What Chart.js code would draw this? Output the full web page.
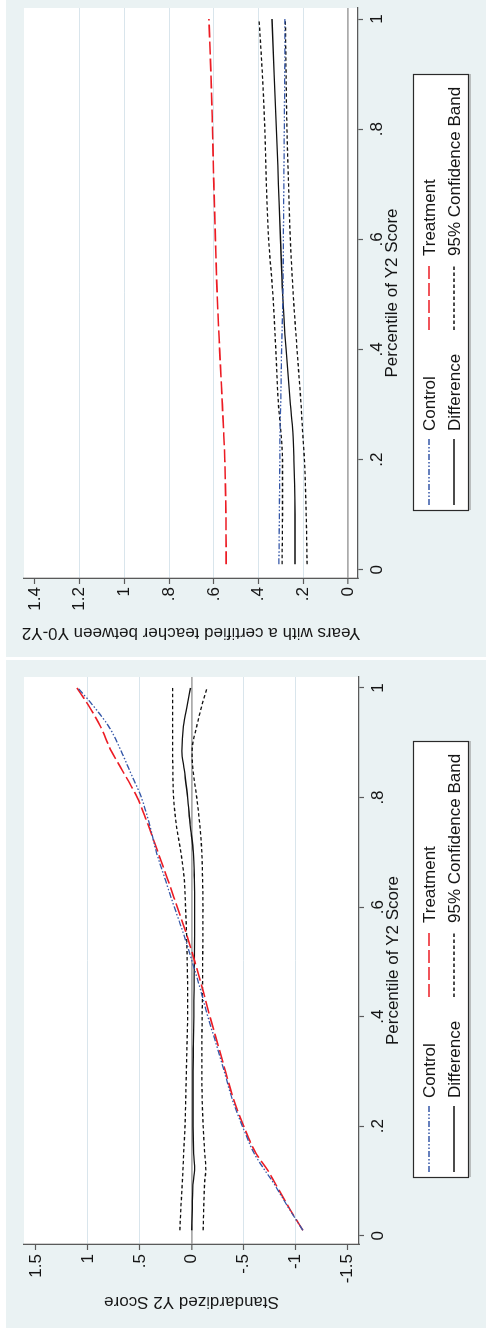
<!DOCTYPE html>
<html>
<head>
<meta charset="utf-8">
<script src="https://cdn.jsdelivr.net/npm/chart.js@4.4.1/dist/chart.umd.min.js"></script>
<style>
  html, body { margin: 0; padding: 0; background: #ffffff; }
  body { width: 486px; height: 1333px; overflow: hidden; position: relative; }
  /* the two panels are laid out side by side, then the sheet is turned a quarter turn */
  #sheet {
    position: absolute; left: 0; top: 0;
    width: 1333px; height: 486px; overflow: hidden;
    transform-origin: 0 0;
    transform: translateY(1333px) rotate(-90deg);
  }
  .panel { position: absolute; top: 6px; width: 668px; height: 480px; background: #eaf2f3; }
  #scorePanel { left: 5px; }
  #yearsPanel { left: 676px; }
  canvas { display: block; }
</style>
</head>
<body>
<div id="sheet">
  <div class="panel" id="scorePanel"><canvas id="scoreChart" width="668" height="480"></canvas></div>
  <div class="panel" id="yearsPanel"><canvas id="yearsChart" width="668" height="480"></canvas></div>
</div>
<script>
// ---- axis ticks ----
const pctTicks = [0, 0.2, 0.4, 0.6, 0.8, 1];
const pctTickLabels = ['0', '.2', '.4', '.6', '.8', '1'];
const scoreTicks = [-1.5, -1, -0.5, 0, 0.5, 1, 1.5];
const scoreTickLabels = ['-1.5', '-1', '-.5', '0', '.5', '1', '1.5'];
const yearsTicks = [0, 0.2, 0.4, 0.6, 0.8, 1, 1.2, 1.4];
const yearsTickLabels = ['0', '.2', '.4', '.6', '.8', '1', '1.2', '1.4'];

const seriesNames = ['Control', 'Treatment', 'Difference', '95% Confidence Band'];

// ---- Standardized Y2 score by percentile ----
const scorePct        = [0.01, 0.05, 0.10, 0.12, 0.15, 0.20, 0.25, 0.30, 0.35, 0.40, 0.45, 0.50, 0.55, 0.60, 0.65, 0.70, 0.75, 0.80, 0.85, 0.885, 0.93, 0.97, 1.00];
const scoreControl    = [-1.07, -0.935, -0.775, -0.702, -0.602, -0.488, -0.388, -0.313, -0.235, -0.155, -0.083, -0.005, 0.077, 0.168, 0.255, 0.34, 0.405, 0.485, 0.60, 0.68, 0.80, 0.96, 1.095];
const scoreTreatment  = [-1.07, -0.94, -0.79, -0.73, -0.62, -0.50, -0.40, -0.325, -0.25, -0.175, -0.105, -0.03, 0.05, 0.14, 0.23, 0.325, 0.42, 0.525, 0.67, 0.775, 0.88, 1.00, 1.105];
const scoreDifference = [0.0, -0.005, -0.015, -0.028, -0.018, -0.012, -0.012, -0.012, -0.015, -0.02, -0.022, -0.025, -0.027, -0.028, -0.025, -0.015, 0.015, 0.04, 0.072, 0.095, 0.08, 0.042, 0.012];
const scoreUpper      = [0.115, 0.105, 0.09, 0.085, 0.078, 0.065, 0.058, 0.052, 0.046, 0.04, 0.04, 0.044, 0.05, 0.06, 0.072, 0.105, 0.148, 0.175, 0.182, 0.184, 0.185, 0.185, 0.185];
const scoreLower      = [-0.11, -0.115, -0.125, -0.135, -0.125, -0.11, -0.10, -0.098, -0.098, -0.10, -0.103, -0.105, -0.107, -0.108, -0.104, -0.097, -0.077, -0.048, -0.012, -0.003, -0.048, -0.10, -0.148];

// ---- years with a certified teacher by percentile ----
const yearsPct        = [0.01, 0.10, 0.20, 0.25, 0.30, 0.40, 0.50, 0.60, 0.70, 0.80, 0.90, 1.00];
const yearsControl    = [0.309, 0.307, 0.305, 0.304, 0.301, 0.297, 0.291, 0.289, 0.287, 0.285, 0.283, 0.282];
const yearsTreatment  = [0.545, 0.546, 0.551, 0.556, 0.562, 0.574, 0.585, 0.593, 0.600, 0.606, 0.613, 0.622];
const yearsDifference = [0.237, 0.237, 0.242, 0.247, 0.258, 0.277, 0.292, 0.302, 0.311, 0.320, 0.330, 0.340];
const yearsUpper      = [0.295, 0.293, 0.293, 0.300, 0.311, 0.323, 0.336, 0.355, 0.365, 0.372, 0.383, 0.398];
const yearsLower      = [0.183, 0.187, 0.195, 0.203, 0.210, 0.228, 0.245, 0.258, 0.266, 0.273, 0.277, 0.280];

// ---- look ----
const FONT = "'Liberation Sans', Arial, Helvetica, sans-serif";
const FONT_SIZE = 17;
const TEXT = '#151515';
const AXIS = '#5a5a5a';
const GRID = '#d9e5ec';
const ZERO = '#ababab';

Chart.defaults.font.family = FONT;
Chart.defaults.font.size = FONT_SIZE;
Chart.defaults.color = TEXT;

const pts = (xs, ys) => xs.map((x, i) => ({ x: x, y: ys[i] }));

function seriesSets(xs, control, treatment, diff, upper, lower) {
  const base = { pointRadius: 0, fill: false, cubicInterpolationMode: 'monotone' };
  return [
    Object.assign({ label: seriesNames[0], data: pts(xs, control), borderColor: '#3557a8', borderWidth: 1.3, borderDash: [6, 2, 1.5, 2, 1.5, 2] }, base),
    Object.assign({ label: seriesNames[1], data: pts(xs, treatment), borderColor: '#ec1c24', borderWidth: 1.6, borderDash: [13, 4] }, base),
    Object.assign({ label: seriesNames[2], data: pts(xs, diff), borderColor: '#111111', borderWidth: 1.3, borderDash: [] }, base),
    Object.assign({ label: seriesNames[3], data: pts(xs, upper), borderColor: '#111111', borderWidth: 1.3, borderDash: [3.5, 2.5] }, base),
    Object.assign({ label: seriesNames[3], data: pts(xs, lower), borderColor: '#111111', borderWidth: 1.3, borderDash: [3.5, 2.5], legendSkip: true }, base)
  ];
}

// white plot region
const plotRegion = {
  id: 'plotRegion',
  beforeDraw(chart) {
    const a = chart.chartArea, ctx = chart.ctx;
    ctx.save();
    ctx.fillStyle = '#ffffff';
    ctx.fillRect(a.left, a.top, a.right - a.left, a.bottom - a.top);
    ctx.restore();
  }
};

// boxed two-column legend under the axis title
const boxLegend = {
  id: 'boxLegend',
  afterDraw(chart, args, opts) {
    const { ctx, chartArea } = chart;
    const x0 = Math.round((chartArea.left + chartArea.right) / 2 - opts.width / 2);
    const y0 = opts.top;
    ctx.save();
    ctx.fillStyle = '#ffffff';
    ctx.fillRect(x0, y0, opts.width, opts.height);
    ctx.strokeStyle = '#2a2a2a';
    ctx.lineWidth = 1.2;
    ctx.strokeRect(x0 + 0.5, y0 + 0.5, opts.width, opts.height);
    ctx.strokeStyle = '#8a8a8a';
    ctx.lineWidth = 1;
    ctx.beginPath();
    ctx.moveTo(x0 + 1, y0 + opts.height + 2);
    ctx.lineTo(x0 + opts.width + 1, y0 + opts.height + 2);
    ctx.stroke();

    const items = chart.data.datasets.filter(d => !d.legendSkip);
    items.forEach((ds, i) => {
      const col = i % 2, row = Math.floor(i / 2);
      const sx = x0 + opts.colOffsets[col];
      const y = y0 + opts.rowOffsets[row];
      ctx.beginPath();
      ctx.setLineDash(ds.borderDash || []);
      ctx.strokeStyle = ds.borderColor;
      ctx.lineWidth = ds.borderWidth;
      ctx.moveTo(sx, y);
      ctx.lineTo(sx + opts.symbolLength, y);
      ctx.stroke();
      ctx.setLineDash([]);
      ctx.fillStyle = TEXT;
      ctx.font = FONT_SIZE + 'px ' + FONT;
      ctx.textAlign = 'left';
      ctx.textBaseline = 'middle';
      ctx.fillText(ds.label, sx + opts.symbolLength + opts.textGap, y + 1);
    });
    ctx.restore();
  }
};

function labelFor(ticks, labels) {
  return v => {
    const i = ticks.findIndex(t => Math.abs(t - v) < 1e-9);
    return i >= 0 ? labels[i] : '';
  };
}

function makeChart(id, p) {
  const yLabel = labelFor(p.yTicks, p.yLabels);
  const xLabel = labelFor(pctTicks, pctTickLabels);
  return new Chart(document.getElementById(id), {
    type: 'line',
    data: { datasets: p.datasets },
    options: {
      responsive: false,
      animation: false,
      events: [],
      layout: { padding: { left: 0, right: p.padRight, top: 18, bottom: p.padBottom } },
      plugins: {
        legend: { display: false },
        tooltip: { enabled: false },
        boxLegend: {
          width: 436, height: 55, top: 407,
          colOffsets: [6, 181], rowOffsets: [16, 41],
          symbolLength: 66, textGap: 8
        }
      },
      scales: {
        x: {
          type: 'linear', min: -0.015, max: 1.02,
          afterBuildTicks: s => { s.ticks = pctTicks.map(v => ({ value: v })); },
          afterFit: s => { s.height = 50; },
          grid: { drawOnChartArea: false, drawTicks: true, tickLength: 5, tickColor: AXIS, tickWidth: 1.2 },
          border: { display: true, color: AXIS, width: 1.3 },
          ticks: { callback: xLabel, padding: 4, maxRotation: 0, autoSkip: false, color: TEXT },
          title: { display: true, text: 'Percentile of Y2 Score', padding: { top: 0, bottom: 5 }, color: TEXT }
        },
        y: {
          type: 'linear', min: p.yMin, max: p.yMax,
          afterBuildTicks: s => { s.ticks = p.yTicks.map(v => ({ value: v })); },
          afterFit: s => { s.width = p.yWidth; },
          grid: {
            drawTicks: true, tickLength: 6, tickColor: AXIS, tickWidth: 1.2,
            color: c => {
              const v = c.tick ? c.tick.value : null;
              if (v === 0) return ZERO;
              if (c.index === 0 || c.index === p.yTicks.length - 1) return 'rgba(0,0,0,0)';
              return GRID;
            },
            lineWidth: c => (c.tick && c.tick.value === 0 ? 1.7 : 1)
          },
          border: { display: true, color: AXIS, width: 1.3 },
          ticks: { callback: yLabel, padding: p.yTickPad, autoSkip: false, color: TEXT },
          title: { display: true, text: p.yTitle, padding: { top: p.yTitlePad, bottom: 0 }, color: TEXT }
        }
      }
    },
    plugins: [plotRegion, boxLegend]
  });
}

makeChart('scoreChart', {
  datasets: seriesSets(scorePct, scoreControl, scoreTreatment, scoreDifference, scoreUpper, scoreLower),
  yMin: -1.61, yMax: 1.615,
  yTicks: scoreTicks, yLabels: scoreTickLabels,
  yTitle: 'Standardized Y2 Score',
  yWidth: 84, yTickPad: 4, yTitlePad: 16,
  padRight: 17, padBottom: 77
});

makeChart('yearsChart', {
  datasets: seriesSets(yearsPct, yearsControl, yearsTreatment, yearsDifference, yearsUpper, yearsLower),
  yMin: -0.0447, yMax: 1.449,
  yTicks: yearsTicks, yLabels: yearsTickLabels,
  yTitle: 'Years with a certified teacher between Y0-Y2',
  yWidth: 79, yTickPad: 3, yTitlePad: 14,
  padRight: 19, padBottom: 78
});
</script>
</body>
</html>
